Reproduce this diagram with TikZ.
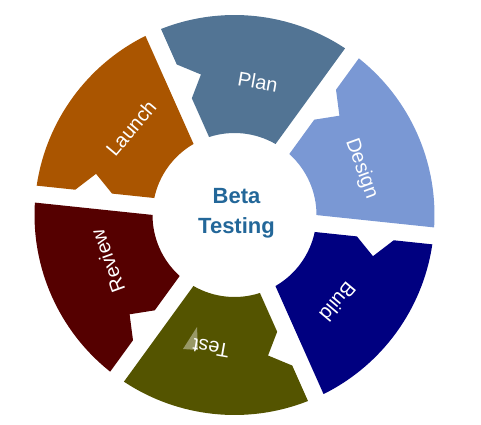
\documentclass[tikz,border=0pt]{standalone}
\usepackage{fontspec}
\setmainfont{Liberation Sans}
\usetikzlibrary{calc}
\definecolor{plan}{RGB}{82,116,148}
\definecolor{design}{RGB}{122,152,212}
\definecolor{build}{RGB}{0,0,128}
\definecolor{test}{RGB}{84,84,0}
\definecolor{review}{RGB}{85,0,0}
\definecolor{launch}{RGB}{170,85,0}
\definecolor{beta}{RGB}{35,103,153}
\begin{document}
\begin{tikzpicture}[x=1pt, y=1pt, phase/.style={text=white, font=\fontsize{20}{24}\selectfont}]
    \useasboundingbox (0,0) rectangle (481,424);
    \coordinate (O) at (234.5,209);
    \foreach \a/\col/\name/\txt in {114/plan/P/Plan, 54/design/D/Design, -6/build/B/Build, -66/test/T/Test, 234/review/R/Review, 174/launch/L/Launch}{
        \fill[\col] ($(O)+(\a-2.44:200)$) arc[start angle=\a-2.44, end angle=\a-57.56, radius=200] -- ($(O)+(\a-54.05:82)$) arc[start angle=\a-54.05, end angle=\a-5.95, radius=82] -- ($(O)+(\a:124)+(\a-90:8.5)$) -- ($(O)+(\a:142)+(\a-90:26.5)$) -- ($(O)+(\a:161)+(\a-90:8.5)$) -- cycle;
        \node[phase, rotate=\a-124] (\name) at ($(O)+(\a-34:135)$) {\txt};
    }
    \fill[white, opacity=0.4] (183,75) -- (197,97) -- (198,74) -- cycle;
    \node[text=beta, font=\bfseries\fontsize{22}{30}\selectfont, align=center] (C) at ($(O)+(2,2)$) {Beta\\Testing};
\end{tikzpicture}
\end{document}
